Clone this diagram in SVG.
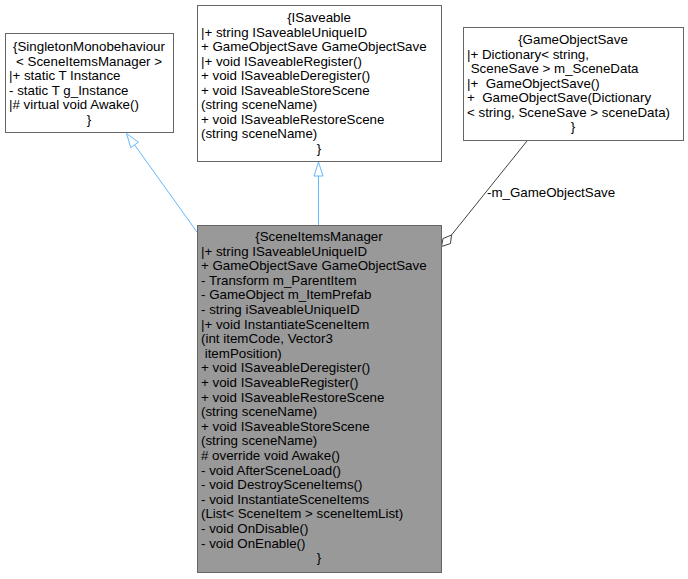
<svg xmlns="http://www.w3.org/2000/svg" width="688" height="579" viewBox="0 0 688 579">
<style>
text{font-family:"Liberation Sans",Arial,sans-serif;font-size:13.33px;fill:#000}
.c{text-anchor:middle}
.box{fill:#fff;stroke:#666;stroke-width:1}
.cur{fill:#999;stroke:#666;stroke-width:1}
.inh{stroke:#63b8ff;fill:none;stroke-width:1}
.inhh{stroke:#63b8ff;fill:#fff;stroke-width:1}
.agg{stroke:#404040;fill:none;stroke-width:1}
.aggh{stroke:#404040;fill:#fff;stroke-width:1}
</style>
<rect width="688" height="579" fill="#fff"/>
<g id="edges">
<path class="inh" d="M197,232 L134.6,144.9"/>
<polygon class="inhh" points="126.5,133.5 130.8,147.6 138.4,142.2"/>
<path class="inh" d="M318.5,225 L318.5,176"/>
<polygon class="inhh" points="318.5,162 314,176 323,176"/>
<path class="agg" d="M527,141 L451.5,235"/>
<polygon class="aggh" points="441.5,246.5 450.5,243.5 451.5,235 443,238.5"/>
<text x="487" y="197">-m_GameObjectSave</text>
</g>
<g id="singleton">
<rect class="box" x="5.5" y="33.5" width="168" height="99"/>
<text xml:space="preserve"><tspan class="c" x="89" y="51">{SingletonMonobehaviour</tspan><tspan class="c" x="89" y="65.5">&lt; SceneItemsManager &gt;</tspan><tspan x="9" y="80">|+ static T Instance</tspan><tspan x="9" y="94.5">- static T g_Instance</tspan><tspan x="9" y="109">|# virtual void Awake()</tspan><tspan class="c" x="89" y="123.5">}</tspan></text>
</g>
<g id="isaveable">
<rect class="box" x="197.5" y="5.5" width="244" height="156"/>
<text xml:space="preserve"><tspan class="c" x="319" y="22">{ISaveable</tspan><tspan x="201" y="36.5">|+ string ISaveableUniqueID</tspan><tspan x="201" y="51">+ GameObjectSave GameObjectSave</tspan><tspan x="201" y="65.5">|+ void ISaveableRegister()</tspan><tspan x="201" y="80">+ void ISaveableDeregister()</tspan><tspan x="201" y="94.5">+ void ISaveableStoreScene</tspan><tspan x="201" y="109">(string sceneName)</tspan><tspan x="201" y="123.5">+ void ISaveableRestoreScene</tspan><tspan x="201" y="138">(string sceneName)</tspan><tspan class="c" x="319" y="152.5">}</tspan></text>
</g>
<g id="gameobjectsave">
<rect class="box" x="463.5" y="27.5" width="220" height="113"/>
<text xml:space="preserve"><tspan class="c" x="573" y="44">{GameObjectSave</tspan><tspan x="467" y="58.5">|+ Dictionary&lt; string,</tspan><tspan x="467" y="73"> SceneSave &gt; m_SceneData</tspan><tspan x="467" y="87.5">|+  GameObjectSave()</tspan><tspan x="467" y="102">+  GameObjectSave(Dictionary</tspan><tspan x="467" y="116.5">&lt; string, SceneSave &gt; sceneData)</tspan><tspan class="c" x="573" y="131">}</tspan></text>
</g>
<g id="sceneitemsmanager">
<rect class="cur" x="197.5" y="225.5" width="244" height="347"/>
<text xml:space="preserve"><tspan class="c" x="319" y="241">{SceneItemsManager</tspan><tspan x="201" y="255.6">|+ string ISaveableUniqueID</tspan><tspan x="201" y="270.2">+ GameObjectSave GameObjectSave</tspan><tspan x="201" y="284.8">- Transform m_ParentItem</tspan><tspan x="201" y="299.4">- GameObject m_ItemPrefab</tspan><tspan x="201" y="314">- string iSaveableUniqueID</tspan><tspan x="201" y="328.6">|+ void InstantiateSceneItem</tspan><tspan x="201" y="343.2">(int itemCode, Vector3</tspan><tspan x="201" y="357.8"> itemPosition)</tspan><tspan x="201" y="372.4">+ void ISaveableDeregister()</tspan><tspan x="201" y="387">+ void ISaveableRegister()</tspan><tspan x="201" y="401.6">+ void ISaveableRestoreScene</tspan><tspan x="201" y="416.2">(string sceneName)</tspan><tspan x="201" y="430.8">+ void ISaveableStoreScene</tspan><tspan x="201" y="445.4">(string sceneName)</tspan><tspan x="201" y="460"># override void Awake()</tspan><tspan x="201" y="474.6">- void AfterSceneLoad()</tspan><tspan x="201" y="489.2">- void DestroySceneItems()</tspan><tspan x="201" y="503.8">- void InstantiateSceneItems</tspan><tspan x="201" y="518.4">(List&lt; SceneItem &gt; sceneItemList)</tspan><tspan x="201" y="533">- void OnDisable()</tspan><tspan x="201" y="547.6">- void OnEnable()</tspan><tspan class="c" x="319" y="562.2">}</tspan></text>
</g>
</svg>
